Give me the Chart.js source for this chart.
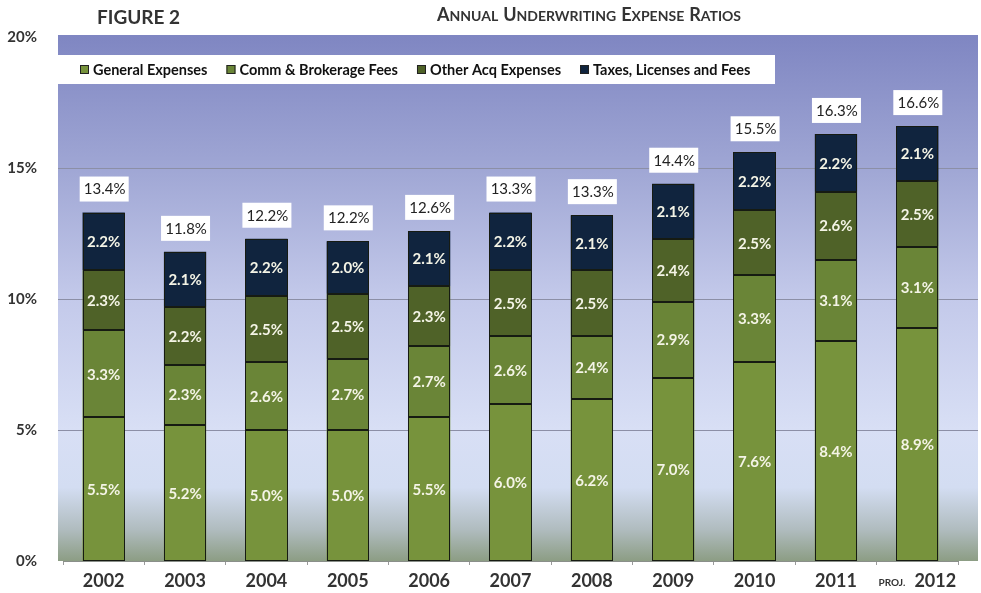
<!DOCTYPE html>
<html lang="en">
<head>
<meta charset="UTF-8">
<title>Annual Underwriting Expense Ratios</title>
<script src="https://cdn.jsdelivr.net/npm/chart.js@4.4.1/dist/chart.umd.min.js"></script>
<style>
  html, body { margin: 0; padding: 0; background: #fff; }
  canvas { display: block; }
</style>
</head>
<body>
<canvas id="ratios" width="981" height="593"></canvas>
<script>
// expense ratio data, % of premium
const years = ['2002', '2003', '2004', '2005', '2006', '2007', '2008', '2009', '2010', '2011', '2012'];
const generalExpenses = [5.5, 5.2, 5.0, 5.0, 5.5, 6.0, 6.2, 7.0, 7.6, 8.4, 8.9];
const commBrokerage = [3.3, 2.3, 2.6, 2.7, 2.7, 2.6, 2.4, 2.9, 3.3, 3.1, 3.1];
const otherAcq = [2.3, 2.2, 2.5, 2.5, 2.3, 2.5, 2.5, 2.4, 2.5, 2.6, 2.5];
const taxesFees = [2.2, 2.1, 2.2, 2.0, 2.1, 2.2, 2.1, 2.1, 2.2, 2.2, 2.1];
const totals = [13.4, 11.8, 12.2, 12.2, 12.6, 13.3, 13.3, 14.4, 15.5, 16.3, 16.6];
const yTicks = [0, 5, 10, 15, 20];
const projectedYear = '2012';

const FONT = 'Lato, "Open Sans", sans-serif';
const TEXT = '#333333';

// background, grid lines, legend box and titles
const frame = {
  id: 'frame',
  beforeDraw(chart) {
    const { ctx, scales: { y } } = chart;
    const top = y.getPixelForValue(20) - 2, bottom = y.getPixelForValue(0);
    const g = ctx.createLinearGradient(0, top, 0, bottom);
    g.addColorStop(0, '#7f86c2');
    g.addColorStop(0.25, '#9fa6d4');
    g.addColorStop(0.5, '#c3c9ea');
    g.addColorStop(0.75, '#d8dff5');
    g.addColorStop(0.86, '#d3ddf2');
    g.addColorStop(0.94, '#b0bcbf');
    g.addColorStop(1, '#8c9d84');
    ctx.save();
    ctx.fillStyle = g;
    ctx.fillRect(58, top, 920, bottom - top);
    ctx.strokeStyle = '#8c8fa6';
    ctx.lineWidth = 1;
    yTicks.forEach(v => {
      if (v === 0 || v === 20) return;
      const py = Math.round(y.getPixelForValue(v)) + 0.5;
      ctx.beginPath();
      ctx.moveTo(58, py);
      ctx.lineTo(978, py);
      ctx.stroke();
    });
    ctx.restore();
  },
  afterDraw(chart) {
    const { ctx, scales: { x } } = chart;
    ctx.save();
    ctx.fillStyle = TEXT;
    ctx.textBaseline = 'alphabetic';

    // headings
    ctx.font = 'bold 19px ' + FONT;
    ctx.textAlign = 'left';
    ctx.fillText('FIGURE 2', 97, 24);
    let tx = 437;
    'Annual Underwriting Expense Ratios'.split(' ').forEach((word, wi) => {
      if (wi) tx += 5;
      ctx.font = 'bold 18px ' + FONT;
      ctx.fillText(word[0].toUpperCase(), tx, 21);
      tx += ctx.measureText(word[0].toUpperCase()).width;
      ctx.font = 'bold 14px ' + FONT;
      const rest = word.slice(1).toUpperCase();
      ctx.fillText(rest, tx, 21);
      tx += ctx.measureText(rest).width;
    });

    // legend
    ctx.fillStyle = '#ffffff';
    ctx.fillRect(58, 55, 717, 29);
    let lx = 80;
    ctx.font = 'bold 14.5px ' + FONT;
    chart.data.datasets.forEach(ds => {
      ctx.fillStyle = ds.backgroundColor;
      ctx.fillRect(lx, 65, 9, 9);
      ctx.strokeStyle = '#222';
      ctx.lineWidth = 1;
      ctx.strokeRect(lx + 0.5, 65.5, 8, 8);
      ctx.fillStyle = '#111';
      ctx.fillText(ds.label, lx + 13, 75);
      lx += 13 + ctx.measureText(ds.label).width + 19;
    });

    // category labels
    years.forEach((yr, i) => {
      const cx = x.getPixelForValue(i);
      ctx.font = 'bold 18px ' + FONT;
      const w = ctx.measureText(yr).width;
      if (yr === projectedYear) {
        ctx.font = 'bold 10px ' + FONT;
        const pw = ctx.measureText('PROJ.').width;
        const start = cx - (pw + 9 + w) / 2;
        ctx.fillStyle = TEXT;
        ctx.textAlign = 'left';
        ctx.fillText('PROJ.', start, 586);
        ctx.font = 'bold 18px ' + FONT;
        ctx.fillText(yr, start + pw + 9, 587);
      } else {
        ctx.textAlign = 'center';
        ctx.fillStyle = TEXT;
        ctx.fillText(yr, cx, 587);
      }
    });
    ctx.restore();
  }
};

// crisp outlines, values inside segments and boxed totals above each stack
const barLabels = {
  id: 'barLabels',
  afterDatasetsDraw(chart) {
    const { ctx } = chart;
    ctx.save();
    ctx.strokeStyle = '#161b12';
    ctx.lineWidth = 1;
    chart.data.datasets.forEach((ds, di) => {
      chart.getDatasetMeta(di).data.forEach(bar => {
        const l = Math.round(bar.x - bar.width / 2) + 0.5;
        const r = Math.round(bar.x + bar.width / 2) - 0.5;
        const t = Math.round(bar.y) + 0.5;
        const b = Math.round(bar.base) - 0.5;
        ctx.strokeRect(l, t, r - l, b - t);
      });
    });

    ctx.textAlign = 'center';
    ctx.textBaseline = 'middle';
    ctx.font = 'bold 15px ' + FONT;
    ctx.fillStyle = '#f4f4e6';
    chart.data.datasets.forEach((ds, di) => {
      chart.getDatasetMeta(di).data.forEach((bar, i) => {
        const cy = (bar.y + bar.base) / 2;
        ctx.fillText(ds.data[i].toFixed(1) + '%', bar.x, cy + 1);
      });
    });
    const topMeta = chart.getDatasetMeta(chart.data.datasets.length - 1);
    ctx.font = '15px ' + FONT;
    topMeta.data.forEach((bar, i) => {
      const cy = bar.y - 24;
      ctx.fillStyle = '#ffffff';
      ctx.fillRect(bar.x - 24, cy - 12, 49, 25);
      ctx.fillStyle = '#222';
      ctx.fillText(totals[i].toFixed(1) + '%', bar.x + 1, cy + 1);
    });
    ctx.restore();
  }
};

const seg = (label, data, color) => ({
  label: label,
  data: data,
  backgroundColor: color,
  borderWidth: 0,
  categoryPercentage: 1,
  barPercentage: 0.52
});

const ratiosChart = new Chart(document.getElementById('ratios'), {
  type: 'bar',
  data: {
    labels: years,
    datasets: [
      seg('General Expenses', generalExpenses, '#77933c'),
      seg('Comm & Brokerage Fees', commBrokerage, '#6a8537'),
      seg('Other Acq Expenses', otherAcq, '#4f6228'),
      seg('Taxes, Licenses and Fees', taxesFees, '#10243e')
    ]
  },
  options: {
    responsive: false,
    animation: false,
    devicePixelRatio: 1,
    layout: { padding: { top: 37, right: 23, left: 0, bottom: 0 } },
    plugins: {
      legend: { display: false },
      tooltip: { enabled: false }
    },
    scales: {
      x: {
        stacked: true,
        afterFit(scale) { scale.height = 32; },
        ticks: { display: false },
        grid: { drawOnChartArea: false, drawTicks: true, tickLength: 4, color: '#9a9a9a' },
        border: { color: '#8a8f8a' }
      },
      y: {
        stacked: true,
        min: 0,
        max: 20,
        afterFit(scale) { scale.width = 63; },
        afterBuildTicks(scale) { scale.ticks = yTicks.map(v => ({ value: v })); },
        ticks: {
          padding: 18,
          color: TEXT,
          font: { family: FONT, size: 15, weight: 'bold' },
          callback: v => v + '%'
        },
        grid: { display: false },
        border: { display: false }
      }
    }
  },
  plugins: [frame, barLabels]
});
</script>
</body>
</html>
